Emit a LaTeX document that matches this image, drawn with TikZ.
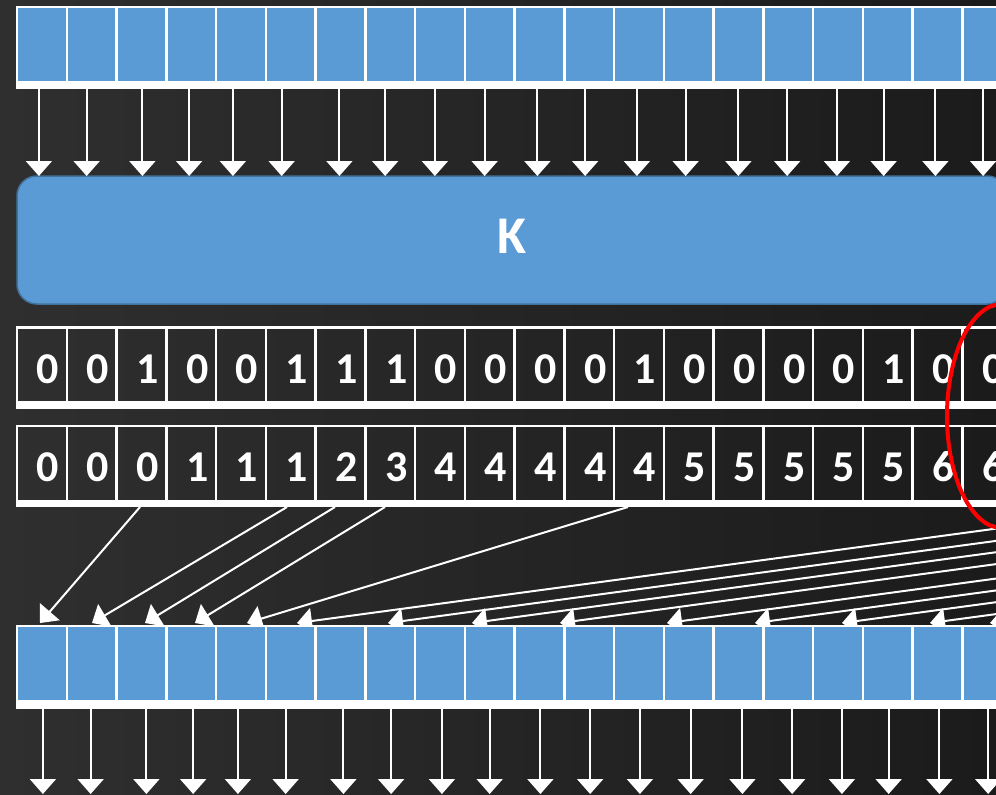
\documentclass[tikz,border=0pt]{standalone}
\usepackage{fontspec}
\setmainfont{Carlito}
\usetikzlibrary{arrows.meta,positioning}
\definecolor{scanBlue}{RGB}{91,155,213}
\definecolor{scanBlueEdge}{RGB}{65,113,156}
\definecolor{scanBgLeft}{RGB}{47,47,47}
\definecolor{scanBgRight}{RGB}{27,27,27}
\definecolor{scanRed}{RGB}{255,0,0}

\begin{document}
\begin{tikzpicture}[
  x=1pt,y=-1pt,
  cell/.style={
    draw=white,
    line width=2.5pt,
    minimum width=49.75pt,
    minimum height=75pt,
    inner sep=0pt,
    outer sep=0pt
  },
  datacell/.style={cell,fill=scanBlue},
  bitcell/.style={
    cell,
    text=white,
    font=\fontsize{44}{44}\selectfont\bfseries,
    text height=36pt,
    text depth=0pt
  },
  kernel/.style={
    draw=scanBlueEdge,
    line width=1.5pt,
    fill=scanBlue,
    rounded corners=20pt,
    minimum width=990pt,
    minimum height=128pt,
    outer sep=0pt,
    text=white,
    font=\fontsize{53}{53}\selectfont\bfseries,
    text height=26pt,
    text depth=0pt
  },
  bar/.style={fill=white},
  arrow/.style={-{Triangle[width=26pt,length=15pt]},line width=2pt,white}
]
  \useasboundingbox (0,0) rectangle (996,795);
  \clip (0,0) rectangle (996,795);
  \fill[left color=scanBgLeft,right color=scanBgRight] (0,0) rectangle (996,795);

  % input row
  \foreach \i in {0,...,19}
    \node[datacell] (in\i) at (41.9+49.75*\i,44.5) {};
  \fill[bar] (15.75,81) rectangle (1013,89);

  % kernel
  \node[kernel] (kernel) at (512,240) {K};
  \foreach \d [count=\i from 0] in {-3,-5,1,-2,-8,-9,-1,-5,-5,-5,-2,-4,-2,-3,0,-1,-1,-4,-2,-4}
    \draw[arrow] ([xshift=\d pt,yshift=-7pt]in\i.south) -- ++(0,87);

  % flags
  \foreach \val [count=\i from 0] in {0,0,1,0,0,1,1,1,0,0,0,0,1,0,0,0,0,1,0,0}
    \node[bitcell] (flag\i) at (41.9+49.75*\i,365) {\hspace*{12pt}\val};
  \fill[bar] (15.75,401.5) rectangle (1013,409);

  % scan of the flags
  \foreach \val [count=\i from 0] in {0,0,0,1,1,1,2,3,4,4,4,4,4,5,5,5,5,5,6,6}
    \node[bitcell] (idx\i) at (41.9+49.75*\i,463.5) {\hspace*{12pt}\val};
  \fill[bar] (15.75,500) rectangle (1013,507);

  % scatter
  \foreach \s/\t [count=\k] in {140/40,287/92,335/145,385/195,628/247,
      1156/297,1247/388,1331/472,1419/560,1526/667,1614/755,1701/842,1789/930,1849/990}
  {
    \coordinate (src\k) at (\s,507);
    \coordinate (dst\k) at (\t,623);
    \draw[arrow] (src\k) -- (dst\k);
  }

  % output row
  \foreach \i in {0,...,19}
    \node[datacell] (out\i) at (41.9+49.75*\i,663.5) {};
  \fill[bar] (15.75,700) rectangle (1013,709);
  \foreach \d [count=\i from 0] in {1,-1,5,2,-3,-5,3,1,2,0,1,1,1,2,4,4,4,1,2,1}
    \draw[arrow] ([xshift=\d pt,yshift=-8pt]out\i.south) -- ++(0,85);

  \draw[scanRed,line width=4pt] (1002,416) ellipse [x radius=55pt,y radius=112pt];
\end{tikzpicture}
\end{document}
